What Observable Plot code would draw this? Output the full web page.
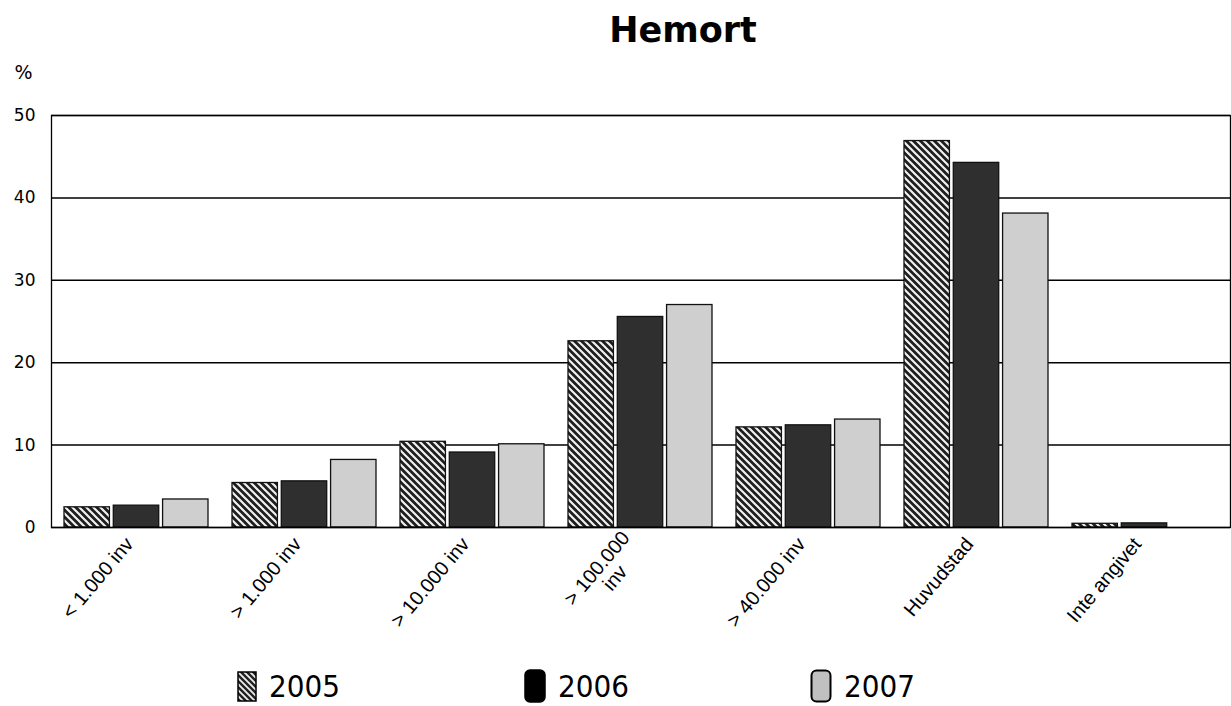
<!DOCTYPE html>
<html>
<head>
<meta charset="utf-8">
<script src="https://cdn.jsdelivr.net/npm/d3@7"></script>
<script src="https://cdn.jsdelivr.net/npm/@observablehq/plot@0.6"></script>
<style>
  html, body { margin: 0; padding: 0; background: #fff; }
  #page { width: 1231px; height: 706px; position: relative; overflow: hidden; }
  #title { height: 50px; box-sizing: border-box; padding-top: 9px; padding-left: 135px; text-align: center;
           font: bold 35px "DejaVu Sans", sans-serif; line-height: 43px; color: #000; }
  #chart svg { display: block; }
  #chart g[aria-label="y-axis tick label"] text, #chart g[aria-label="y-axis"] text { font-family: "DejaVu Sans", sans-serif; font-size: 17px; }
  #chart g[aria-label="x-axis tick label"] text, #chart g[aria-label="x-axis"] text { font-family: "Liberation Sans", sans-serif; font-size: 20px; }
  #legend { height: 51px; position: relative; }
  .item { position: absolute; top: 14px; height: 34px; display: flex; align-items: center; }
  .item span { font: 31px/34px "Liberation Sans Narrow", "DejaVu Sans Condensed", sans-serif; margin-left: 12px; color: #000; }
</style>
</head>
<body>
<div id="page">
  <div id="title">Hemort</div>
  <div id="chart"></div>
  <div id="legend"></div>
</div>
<script>
// ---- data ----
const categories = ["< 1.000 inv", "> 1.000 inv", "> 10.000 inv", "> 100.000\ninv\u00a0\u00a0\u00a0\u00a0\u00a0", "> 40.000 inv", "Huvudstad", "Inte angivet"];
const years = ["2005", "2006", "2007"];
const values2005 = [2.45, 5.4, 10.4, 22.6, 12.15, 46.9, 0.45];
const values2006 = [2.65, 5.6, 9.1, 25.55, 12.4, 44.25, 0.5];
const values2007 = [3.4, 8.2, 10.1, 27.0, 13.1, 38.1, 0];
const yTicks = [0, 10, 20, 30, 40, 50];
const yGrid = [10, 20, 30, 40, 50];

const series = {"2005": values2005, "2006": values2006, "2007": values2007};
const fills = {"2005": "url(#hatch2005)", "2006": "#2f2f2f", "2007": "#cfcfcf"};

// ---- layout ----
const width = 1231, height = 605;
const marginLeft = 51, marginRight = 1, marginTop = 65, marginBottom = 128;
const padInner = 0.14, padOuter = 0.06, gap = 2.6;
const step = (width - marginLeft - marginRight) / (categories.length - padInner + 2 * padOuter);
const bw = step * (1 - padInner);
const barW = (bw - 2 * gap) / 3;

function barsFor(year, i) {
  const rows = categories.map((c, k) => ({category: c, value: series[year][k]}));
  return Plot.barY(rows, {
    x: "category", y: "value",
    fill: fills[year], stroke: "#111", strokeWidth: 1.3,
    insetLeft: i * (barW + gap), insetRight: (2 - i) * (barW + gap)
  });
}

const hasAxisMarks = typeof Plot.axisX === "function";
const xAxisOpts = {label: null, tickSize: 0, tickPadding: 13, tickRotate: -50};
const extraMarks = hasAxisMarks
  ? [Plot.axisX({...xAxisOpts, dx: -7, fontSize: 20, fontFamily: "Liberation Sans"})]
  : [];

const chart = Plot.plot({
  width, height, marginLeft, marginRight, marginTop, marginBottom,
  style: {fontFamily: "Liberation Sans, sans-serif", fontSize: "14px", color: "#000", background: "#fff"},
  x: hasAxisMarks
    ? {domain: categories, paddingInner: padInner, paddingOuter: padOuter}
    : {domain: categories, paddingInner: padInner, paddingOuter: padOuter, ...xAxisOpts},
  y: {domain: [0, 50], ticks: yTicks, label: null, tickSize: 0, tickPadding: 16},
  marks: [
    Plot.ruleY(yGrid, {stroke: "#000", strokeWidth: 1.5}),
    ...years.map((y, i) => barsFor(y, i)),
    Plot.ruleY([0], {stroke: "#000", strokeWidth: 1.5}),
    Plot.frame({stroke: "#000", strokeWidth: 1.3}),
    ...extraMarks,
    Plot.text(["%"], {text: d => d, frameAnchor: "top-left", dx: -37, dy: -50, fontSize: 19, fontFamily: "DejaVu Sans", fill: "#000"})
  ]
});

// pattern defs for hatched 2005 bars
const defs = `<defs>
  <pattern id="hatch2005" patternUnits="userSpaceOnUse" width="7" height="7">
    <rect width="7" height="7" fill="#1e1e1e"/>
    <path d="M-2,-2 L9,9 M-2,5 L2,9 M5,-2 L9,2" stroke="#f0f0f0" stroke-width="2.2"/>
  </pattern>
</defs>`;
chart.insertAdjacentHTML("afterbegin", defs);
document.getElementById("chart").appendChild(chart);

// ---- legend ----
const legend = document.getElementById("legend");
const legendX = [237, 524, 810];
years.forEach((y, i) => {
  const item = document.createElement("div");
  item.className = "item";
  item.style.left = legendX[i] + "px";
  let sw;
  if (y === "2005") {
    sw = `<svg width="20" height="31"><defs><pattern id="hatchL" patternUnits="userSpaceOnUse" width="6" height="6">
      <rect width="6" height="6" fill="#222"/><path d="M-1.5,-1.5 L7.5,7.5 M-1.5,4.5 L1.5,7.5 M4.5,-1.5 L7.5,1.5" stroke="#eee" stroke-width="1.8"/></pattern></defs>
      <rect x="1" y="1" width="18" height="29" fill="url(#hatchL)" stroke="#000" stroke-width="1.5"/></svg>`;
  } else if (y === "2006") {
    sw = `<svg width="22" height="34"><rect x="1" y="1" width="20" height="32" rx="5" fill="#000" stroke="#000" stroke-width="1.5"/></svg>`;
  } else {
    sw = `<svg width="22" height="34"><rect x="1.5" y="1.5" width="19" height="31" rx="5" fill="#c0c0c0" stroke="#000" stroke-width="2"/></svg>`;
  }
  item.innerHTML = sw + `<span>${y}</span>`;
  legend.appendChild(item);
});
</script>
</body>
</html>
